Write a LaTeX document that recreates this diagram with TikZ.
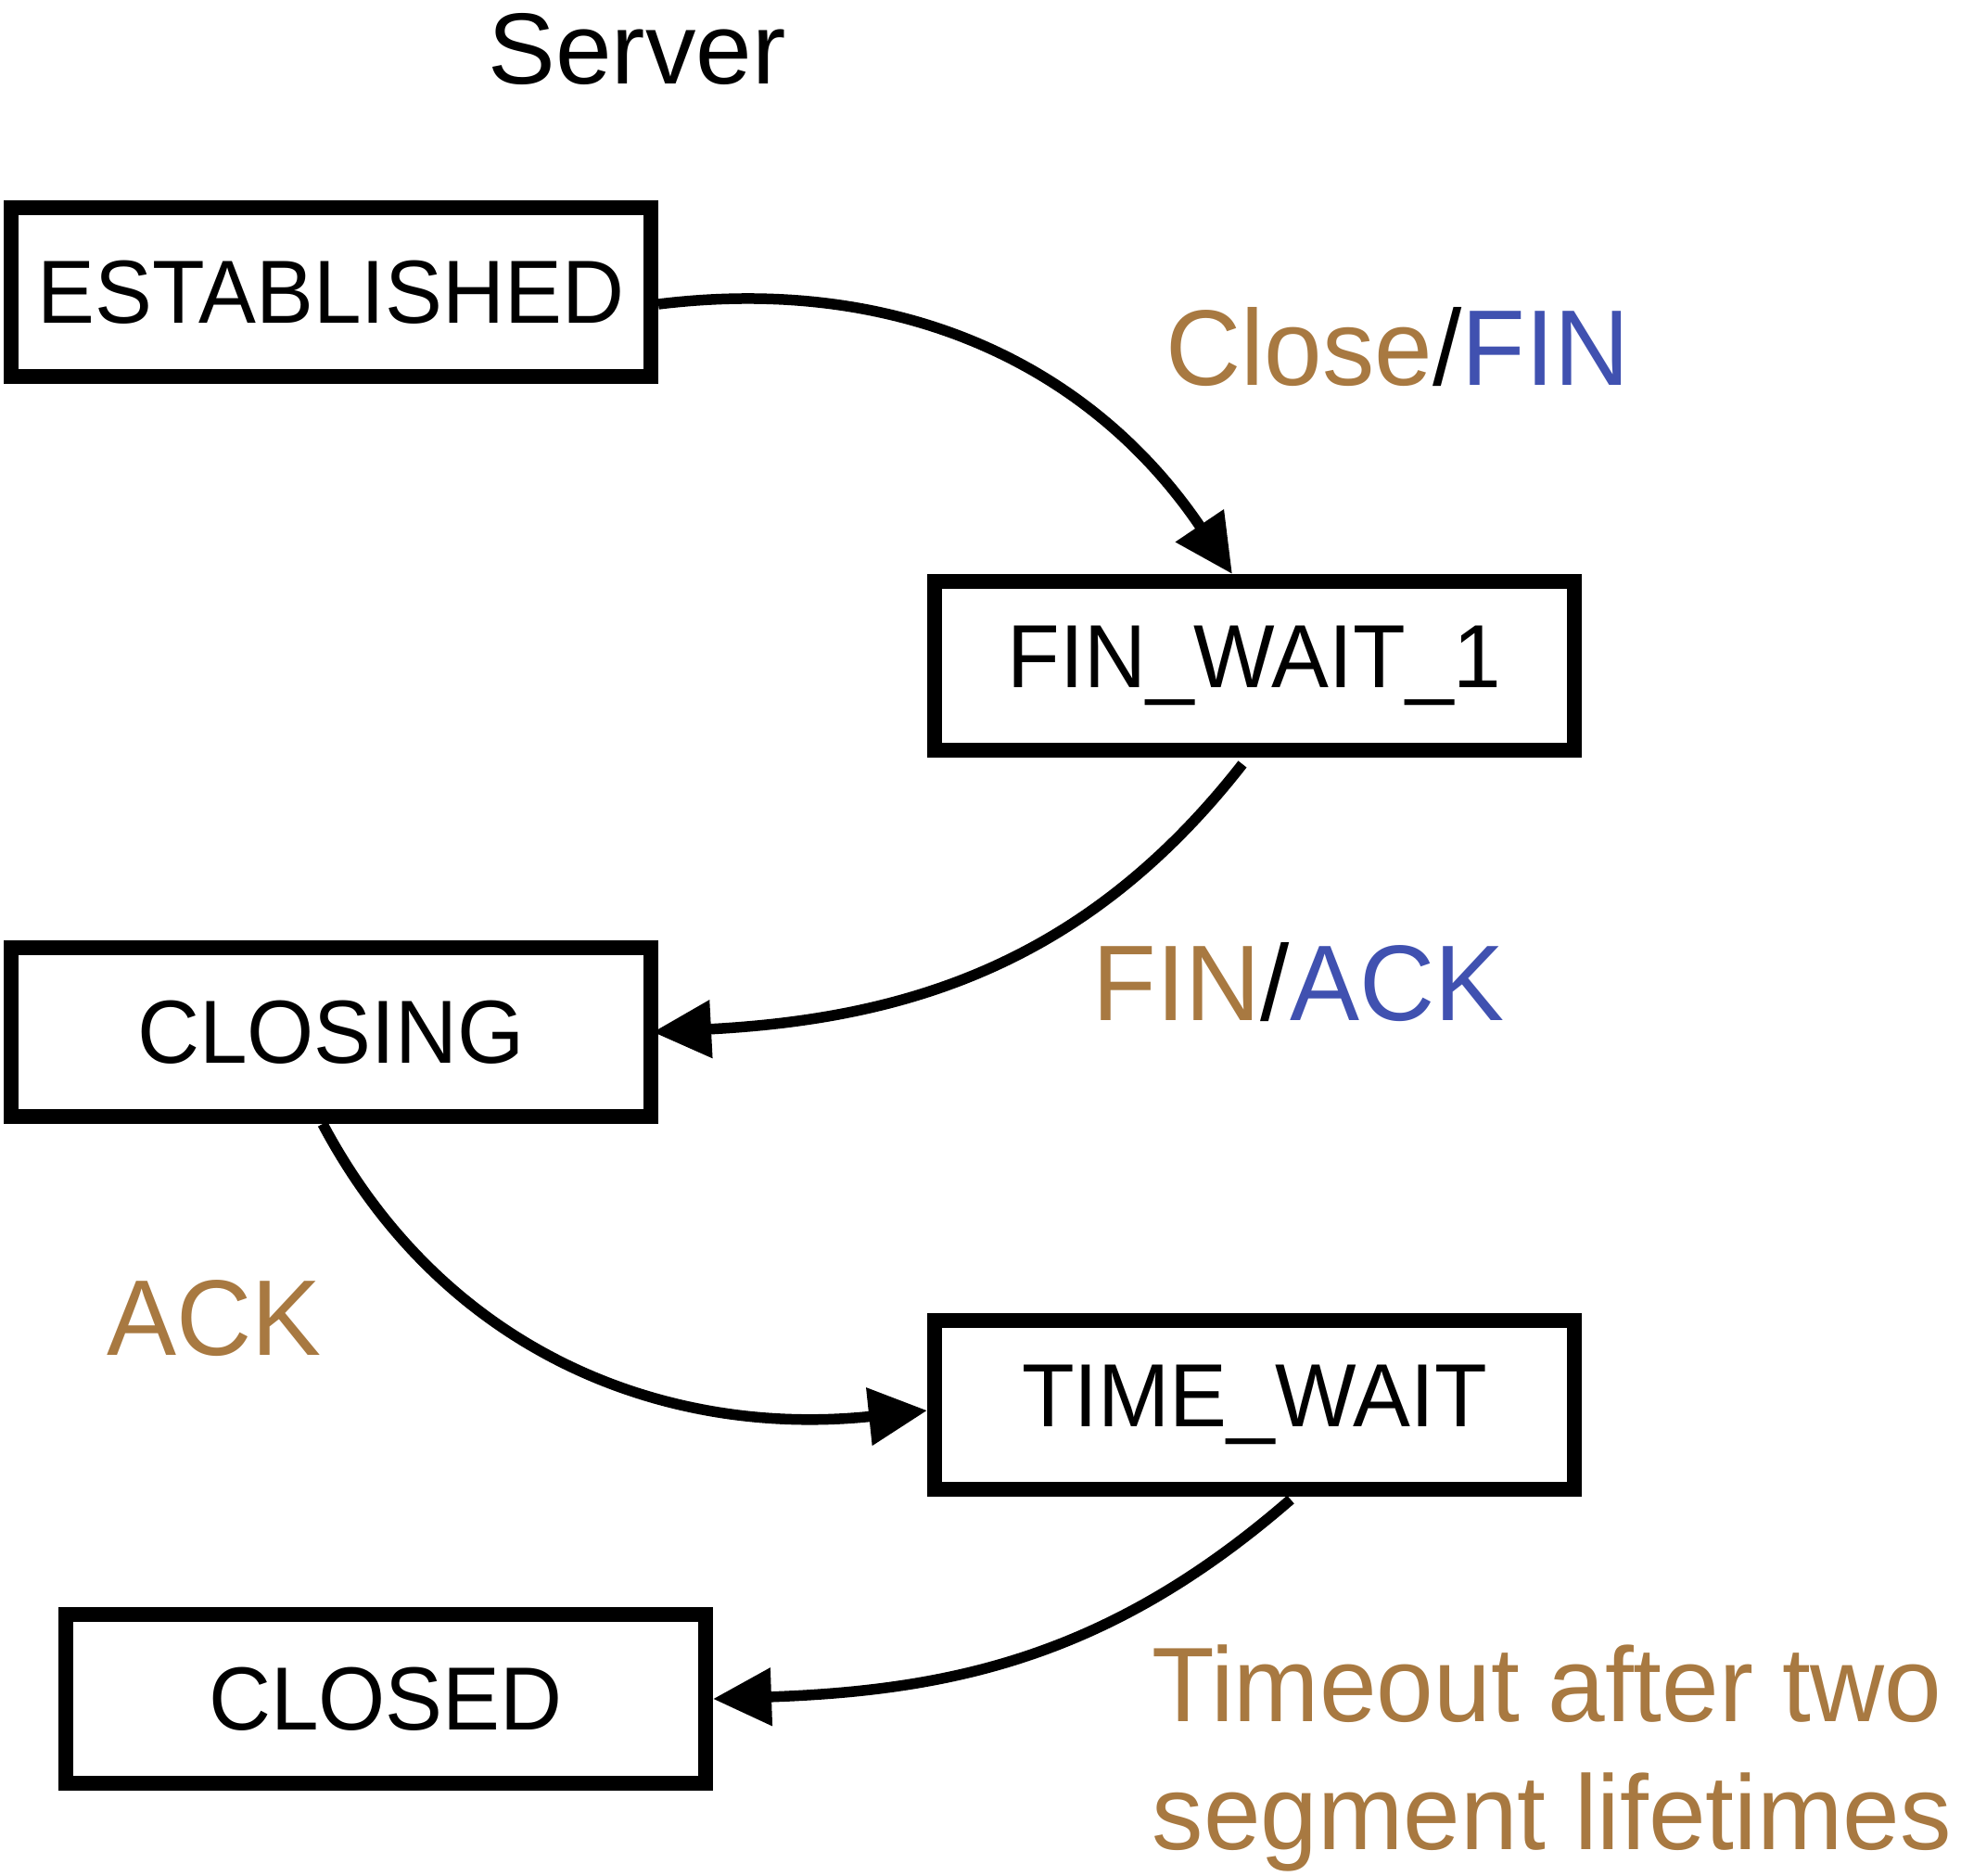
\documentclass[tikz,border=0pt]{standalone}
\usepackage{fontspec}
\setmainfont{Liberation Sans}
\newfontfamily\statefont[FakeStretch=0.96]{Liberation Sans}
\newfontfamily\eventfont[FakeStretch=0.97]{Liberation Sans}
\usetikzlibrary{arrows.meta}
\definecolor{inbrown}{RGB}{168,121,65}
\definecolor{outblue}{RGB}{64,81,176}
\tikzset{
	state/.style={draw, rectangle, line width=0.16cm, minimum width=6.9cm, minimum height=1.82cm, inner sep=0pt, font=\statefont\fontsize{27.5}{33}\selectfont},
	trans/.style={line width=0.115cm, -{Triangle[length=0.63cm, width=0.6cm]}},
	event/.style={anchor=base west, inner sep=0pt, font=\eventfont\fontsize{33}{39}\selectfont}
}

\begin{document}
\begin{tikzpicture}
				\useasboundingbox (0,0) rectangle (21.15,-20.23);
				\node[anchor=base west, inner sep=0pt, font=\fontsize{31}{37}\selectfont] (S)at(5.26, -0.90) {Server};
				\node[state] (E)at(3.57, -3.15) {ESTABLISHED};
				\node[state] (F)at(13.53, -7.18) {FIN\_WAIT\_1};
				\node[state] (C)at(3.57, -11.13) {CLOSING};
				\node[state] (T)at(13.53, -15.15) {TIME\_WAIT};
				\node[state] (D)at(4.16, -18.32) {CLOSED};
				\draw[trans] ([yshift=-0.13cm]E.east) to[out=7, in=124] ([xshift=-0.24cm]F.north);
				\draw[trans] ([xshift=-0.13cm, yshift=-0.07cm]F.south) to[out=-128, in=3] ([xshift=-0.06cm]C.east);
				\draw[trans] ([xshift=-0.09cm]C.south) to[out=-62, in=186] ([yshift=-0.06cm]T.west);
				\draw[trans] ([xshift=0.39cm, yshift=-0.03cm]T.south) to[out=-139, in=2] (D.east);
				\node[event] (L1)at(12.57, -4.15) {\textcolor{inbrown}{Close}/\textcolor{outblue}{FIN}};
				\node[event] (L2)at(11.78, -11.00) {\textcolor{inbrown}{FIN}/\textcolor{outblue}{ACK}};
				\node[event, text=inbrown] (L3)at(1.15, -14.61) {ACK};
				\node[event, text=inbrown, align=left, font=\eventfont\fontsize{32.5}{39}\selectfont] (L4)at(12.42, -19.94) {Timeout after two\\segment lifetimes};
\end{tikzpicture}
\end{document}
